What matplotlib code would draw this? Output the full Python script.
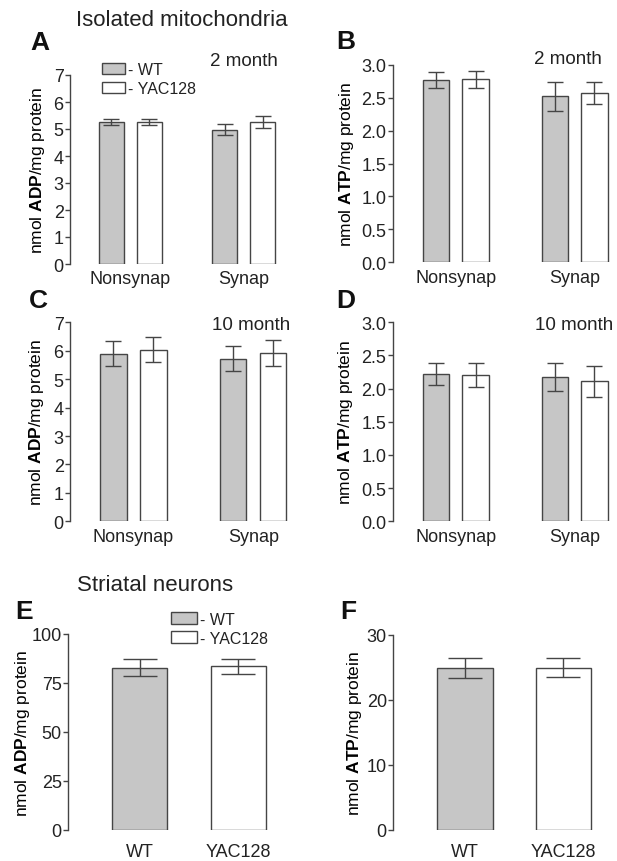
import matplotlib
matplotlib.use("Agg")
import matplotlib.pyplot as plt

plt.rcParams.update({
    "font.family": ["Liberation Sans", "DejaVu Sans"],
    "mathtext.fontset": "custom",
    "mathtext.rm": "Liberation Sans",
    "mathtext.bf": "Liberation Sans:bold",
    "text.color": "#222222",
    "axes.edgecolor": "#444444",
    "xtick.color": "#444444",
    "ytick.color": "#444444",
    "xtick.labelcolor": "#222222",
    "ytick.labelcolor": "#222222",
})

# ---- data ----
groups = ["Nonsynap", "Synap"]
genotypes = ["WT", "YAC128"]

adp_2m_wt = [5.25, 4.97]
adp_2m_wt_err = [0.12, 0.20]
adp_2m_yac = [5.26, 5.25]
adp_2m_yac_err = [0.12, 0.22]

atp_2m_wt = [2.77, 2.52]
atp_2m_wt_err = [0.12, 0.22]
atp_2m_yac = [2.78, 2.57]
atp_2m_yac_err = [0.13, 0.17]

adp_10m_wt = [5.90, 5.72]
adp_10m_wt_err = [0.44, 0.44]
adp_10m_yac = [6.03, 5.92]
adp_10m_yac_err = [0.44, 0.46]

atp_10m_wt = [2.22, 2.17]
atp_10m_wt_err = [0.16, 0.21]
atp_10m_yac = [2.20, 2.11]
atp_10m_yac_err = [0.18, 0.23]

neuron_adp = [82.9, 83.5]
neuron_adp_err = [4.1, 3.8]
neuron_atp = [24.9, 24.9]
neuron_atp_err = [1.55, 1.45]

W, H = 617, 862
fig = plt.figure(figsize=(W / 100, H / 100), dpi=100)

GRAY = "#c6c6c6"
EDGE = "#454545"


def px_axes(left, right, top, bottom):
    return fig.add_axes([left / W, 1 - bottom / H, (right - left) / W, (bottom - top) / H])


def fig_text(x, y, s, **kw):
    fig.text(x / W, 1 - y / H, s, ha="center", va="center", **kw)


def style(ax, ylim, yticks, ylabel, label_x, tick_pad):
    for s in ["top", "right", "bottom"]:
        ax.spines[s].set_visible(False)
    ax.spines["left"].set_linewidth(1.0)
    ax.set_ylim(*ylim)
    ax.set_yticks(yticks)
    ax.tick_params(axis="y", length=3.5, width=1.0, pad=1, labelsize=13)
    ax.tick_params(axis="x", length=0, pad=tick_pad, labelsize=13)
    ax.set_ylabel(ylabel, fontsize=12.5, va="center")
    pos = ax.get_position()
    ax.yaxis.set_label_coords((label_x / W - pos.x0) / pos.width, 0.5)


def grouped(ax, wt, wt_err, yac, yac_err):
    x = range(len(groups))
    off, bw = 0.167, 0.22
    ekw = dict(ecolor=EDGE, elinewidth=1.0, capthick=1.0)
    ax.bar([i - off for i in x], wt, bw, yerr=wt_err, color=GRAY, edgecolor=EDGE,
           linewidth=1.0, capsize=5.5, error_kw=ekw, label="- WT")
    ax.bar([i + off for i in x], yac, bw, yerr=yac_err, color="white", edgecolor=EDGE,
           linewidth=1.0, capsize=5.5, error_kw=ekw, label="- YAC128")
    ax.set_xticks(list(x))
    ax.set_xticklabels(groups)
    ax.set_xlim(-0.53, 1.30)


def single(ax, vals, errs):
    ekw = dict(ecolor=EDGE, elinewidth=1.0, capthick=1.0)
    x = range(len(genotypes))
    ax.bar(x, vals, 0.56, yerr=errs, color=[GRAY, "white"], edgecolor=EDGE,
           linewidth=1.0, capsize=12.5, error_kw=ekw)
    ax.set_xticks(list(x))
    ax.set_xticklabels(genotypes)
    ax.set_xlim(-0.73, 1.45)


def legend(ax, anchor_px, hl, hh):
    handles, labels = ax.get_legend_handles_labels()
    ax.legend(handles, labels, loc="upper left",
              bbox_to_anchor=(anchor_px[0] / W, 1 - anchor_px[1] / H),
              bbox_transform=fig.transFigure, frameon=False, fontsize=11.5,
              handlelength=hl, handleheight=hh, handletextpad=0.15,
              labelspacing=0.25, borderpad=0, borderaxespad=0)


ylab_adp = r"nmol $\bf{ADP}$/mg protein"
ylab_atp = r"nmol $\bf{ATP}$/mg protein"

# A
axA = px_axes(70, 277.7, 76, 265)
grouped(axA, adp_2m_wt, adp_2m_wt_err, adp_2m_yac, adp_2m_yac_err)
style(axA, (0, 7), range(0, 8), ylab_adp, 37.5, 4.5)
legend(axA, (102, 63), 1.45, 0.72)

# B
axB = px_axes(392.7, 610.3, 65.7, 263.3)
grouped(axB, atp_2m_wt, atp_2m_wt_err, atp_2m_yac, atp_2m_yac_err)
style(axB, (0, 3), [0, 0.5, 1, 1.5, 2, 2.5, 3], ylab_atp, 346, 4.5)
axB.set_yticklabels([f"{v:.1f}" for v in axB.get_yticks()])

# C
axC = px_axes(70, 289.2, 323.3, 522.3)
grouped(axC, adp_10m_wt, adp_10m_wt_err, adp_10m_yac, adp_10m_yac_err)
style(axC, (0, 7), range(0, 8), ylab_adp, 37, 4.5)

# D
axD = px_axes(392.7, 610.3, 323.3, 522.3)
grouped(axD, atp_10m_wt, atp_10m_wt_err, atp_10m_yac, atp_10m_yac_err)
style(axD, (0, 3), [0, 0.5, 1, 1.5, 2, 2.5, 3], ylab_atp, 345.5, 4.5)
axD.set_yticklabels([f"{v:.1f}" for v in axD.get_yticks()])

# E
axE = px_axes(68, 282.6, 635, 831)
single(axE, neuron_adp, neuron_adp_err)
style(axE, (0, 100), [0, 25, 50, 75, 100], ylab_adp, 23, 9.5)
axE.bar([0], [0], 0, color=GRAY, edgecolor=EDGE, linewidth=1.0, label="- WT")
axE.bar([0], [0], 0, color="white", edgecolor=EDGE, linewidth=1.0, label="- YAC128")
legend(axE, (171, 613), 1.65, 0.78)

# F
axF = px_axes(393, 607.8, 635.7, 831)
single(axF, neuron_atp, neuron_atp_err)
style(axF, (0, 30), [0, 10, 20, 30], ylab_atp, 354.5, 9.5)

# panel letters and headings
for letter, (lx, ly) in zip("ABCDEF", [(40, 43), (346, 42), (38, 301),
                                         (346, 301), (24, 612), (348, 612)]):
    fig_text(lx, ly, letter, fontsize=19, fontweight="bold", color="#111111")

fig_text(182, 21, "Isolated mitochondria", fontsize=16)
fig_text(155, 586, "Striatal neurons", fontsize=16)
fig_text(244, 61, "2 month", fontsize=13.5)
fig_text(568, 60, "2 month", fontsize=13.5)
fig_text(251, 325, "10 month", fontsize=13.5)
fig_text(574, 325, "10 month", fontsize=13.5)

fig.savefig("out.png", dpi=100)
